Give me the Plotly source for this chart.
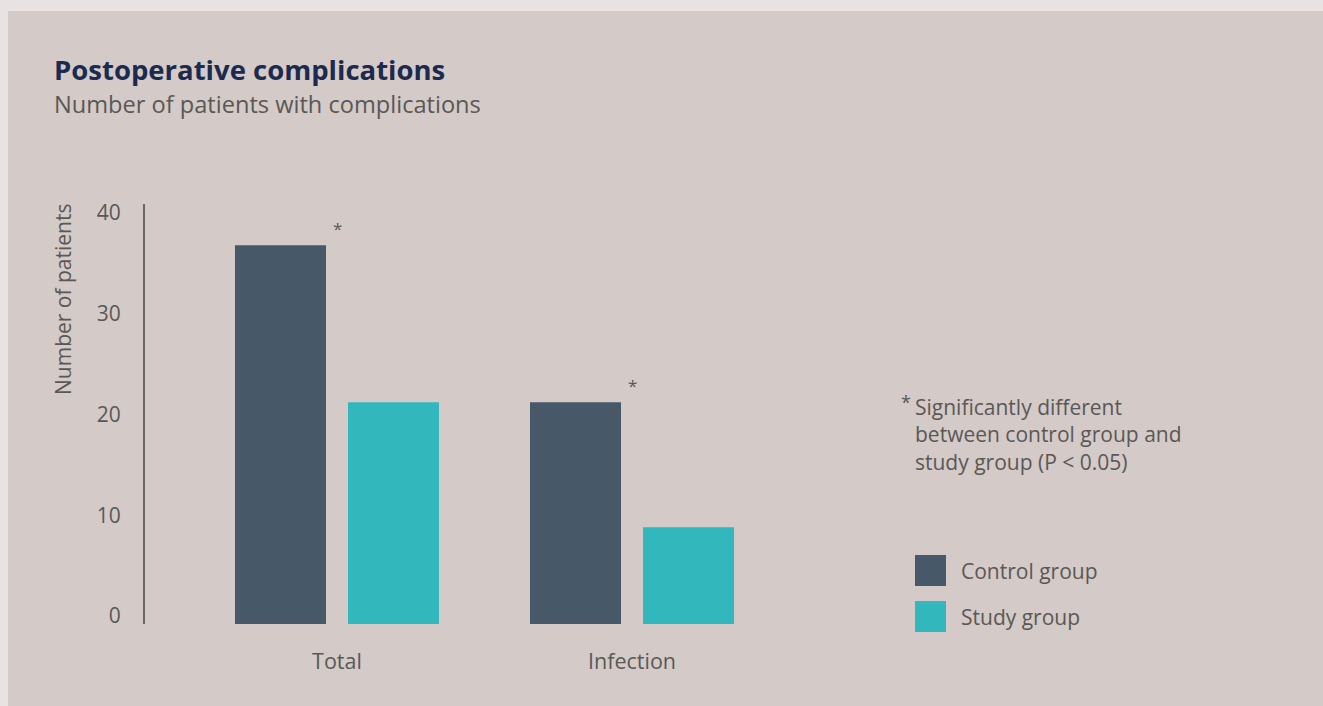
import plotly.graph_objects as go

categories = ["Total", "Infection"]
control_values = [37.6, 22.0]
study_values = [22.0, 9.6]
significant = [True, True]
y_ticks = [0, 10, 20, 30, 40]

W, H = 1323, 706
PL, PR, PT, PB = 145, 800, 204, 624  # plot area in pixels

FONT = "Open Sans"
TEXT = "#5a5856"
CTRL = "#475869"
STUDY = "#31b7bc"
PANEL = "#d4cac7"
OUTER = "#e8e2e2"


def px(x):
    return (x - PL) / (PR - PL)


def py(y):
    return (PB - y) / (PB - PT)


fig = go.Figure()
fig.add_trace(go.Bar(x=categories, y=control_values, name="Control group",
                     marker=dict(color=CTRL, line=dict(width=0)),
                     offset=-0.3458, width=0.3085, showlegend=False))
fig.add_trace(go.Bar(x=categories, y=study_values, name="Study group",
                     marker=dict(color=STUDY, line=dict(width=0)),
                     offset=0.0373, width=0.3085, showlegend=False))

shapes = [
    dict(type="rect", xref="paper", yref="paper", x0=px(8), x1=px(W + 5),
         y0=py(11), y1=py(H + 5), fillcolor=PANEL, line=dict(width=0), layer="below"),
    dict(type="rect", xref="paper", yref="paper", x0=px(915), x1=px(946),
         y0=py(555), y1=py(586), fillcolor=CTRL, line=dict(width=0)),
    dict(type="rect", xref="paper", yref="paper", x0=px(915), x1=px(946),
         y0=py(601), y1=py(632), fillcolor=STUDY, line=dict(width=0)),
]

annotations = [
    dict(text="<b>Postoperative complications</b>", xref="paper", yref="paper",
         x=px(52), y=py(69), xanchor="left", yanchor="middle", showarrow=False,
         font=dict(family=FONT, size=27.5, color="#1b2a4e")),
    dict(text="Number of patients with complications", xref="paper", yref="paper",
         x=px(52), y=py(104), xanchor="left", yanchor="middle", showarrow=False,
         font=dict(family=FONT, size=23.6, color=TEXT)),
    dict(text="Number of patients", xref="paper", yref="paper", textangle=-90,
         x=px(63), y=py(300), xanchor="center", yanchor="middle", showarrow=False,
         font=dict(family=FONT, size=21, color=TEXT)),
    dict(text="*", xref="paper", yref="paper", x=px(899), y=py(402),
         xanchor="left", yanchor="middle", showarrow=False,
         font=dict(family=FONT, size=18, color=TEXT)),
    dict(text="Significantly different<br>between control group and<br>study group (P < 0.05)",
         xref="paper", yref="paper", x=px(913), y=py(434), xanchor="left",
         yanchor="middle", align="left", showarrow=False,
         font=dict(family=FONT, size=21, color=TEXT)),
    dict(text="Control group", xref="paper", yref="paper", x=px(959), y=py(571),
         xanchor="left", yanchor="middle", showarrow=False,
         font=dict(family=FONT, size=21, color=TEXT)),
    dict(text="Study group", xref="paper", yref="paper", x=px(959), y=py(617),
         xanchor="left", yanchor="middle", showarrow=False,
         font=dict(family=FONT, size=21, color=TEXT)),
]
for cat, val, sig in zip(categories, control_values, significant):
    if sig:
        annotations.append(dict(text="*", x=cat, y=val, xref="x", yref="y",
                                yshift=17, showarrow=False, xanchor="center",
                                font=dict(family=FONT, size=17, color=TEXT)))

y_top = 40 * (PB - PT) / (PB - 221)

fig.update_layout(
    width=W, height=H,
    margin=dict(l=PL, r=W - PR, t=PT, b=H - PB, pad=0),
    paper_bgcolor=OUTER, plot_bgcolor="rgba(0,0,0,0)",
    barmode="overlay",
    shapes=shapes, annotations=annotations,
    font=dict(family=FONT, color=TEXT),
    xaxis=dict(range=[-(337 - PL) / 295, 1 + (PR - 632) / 295],
               showline=False, showgrid=False, zeroline=False, ticks="",
               tickfont=dict(family=FONT, size=21.5, color=TEXT),
               ticklabelstandoff=22, fixedrange=True),
    yaxis=dict(range=[0, y_top], tickvals=y_ticks, showgrid=False,
               zeroline=False, showline=True, linecolor="#6a6866", linewidth=2,
               ticks="", tickfont=dict(family=FONT, size=21, color=TEXT),
               ticklabelstandoff=18, ticklabelshift=-8, fixedrange=True),
)

fig.write_html("out.html")
